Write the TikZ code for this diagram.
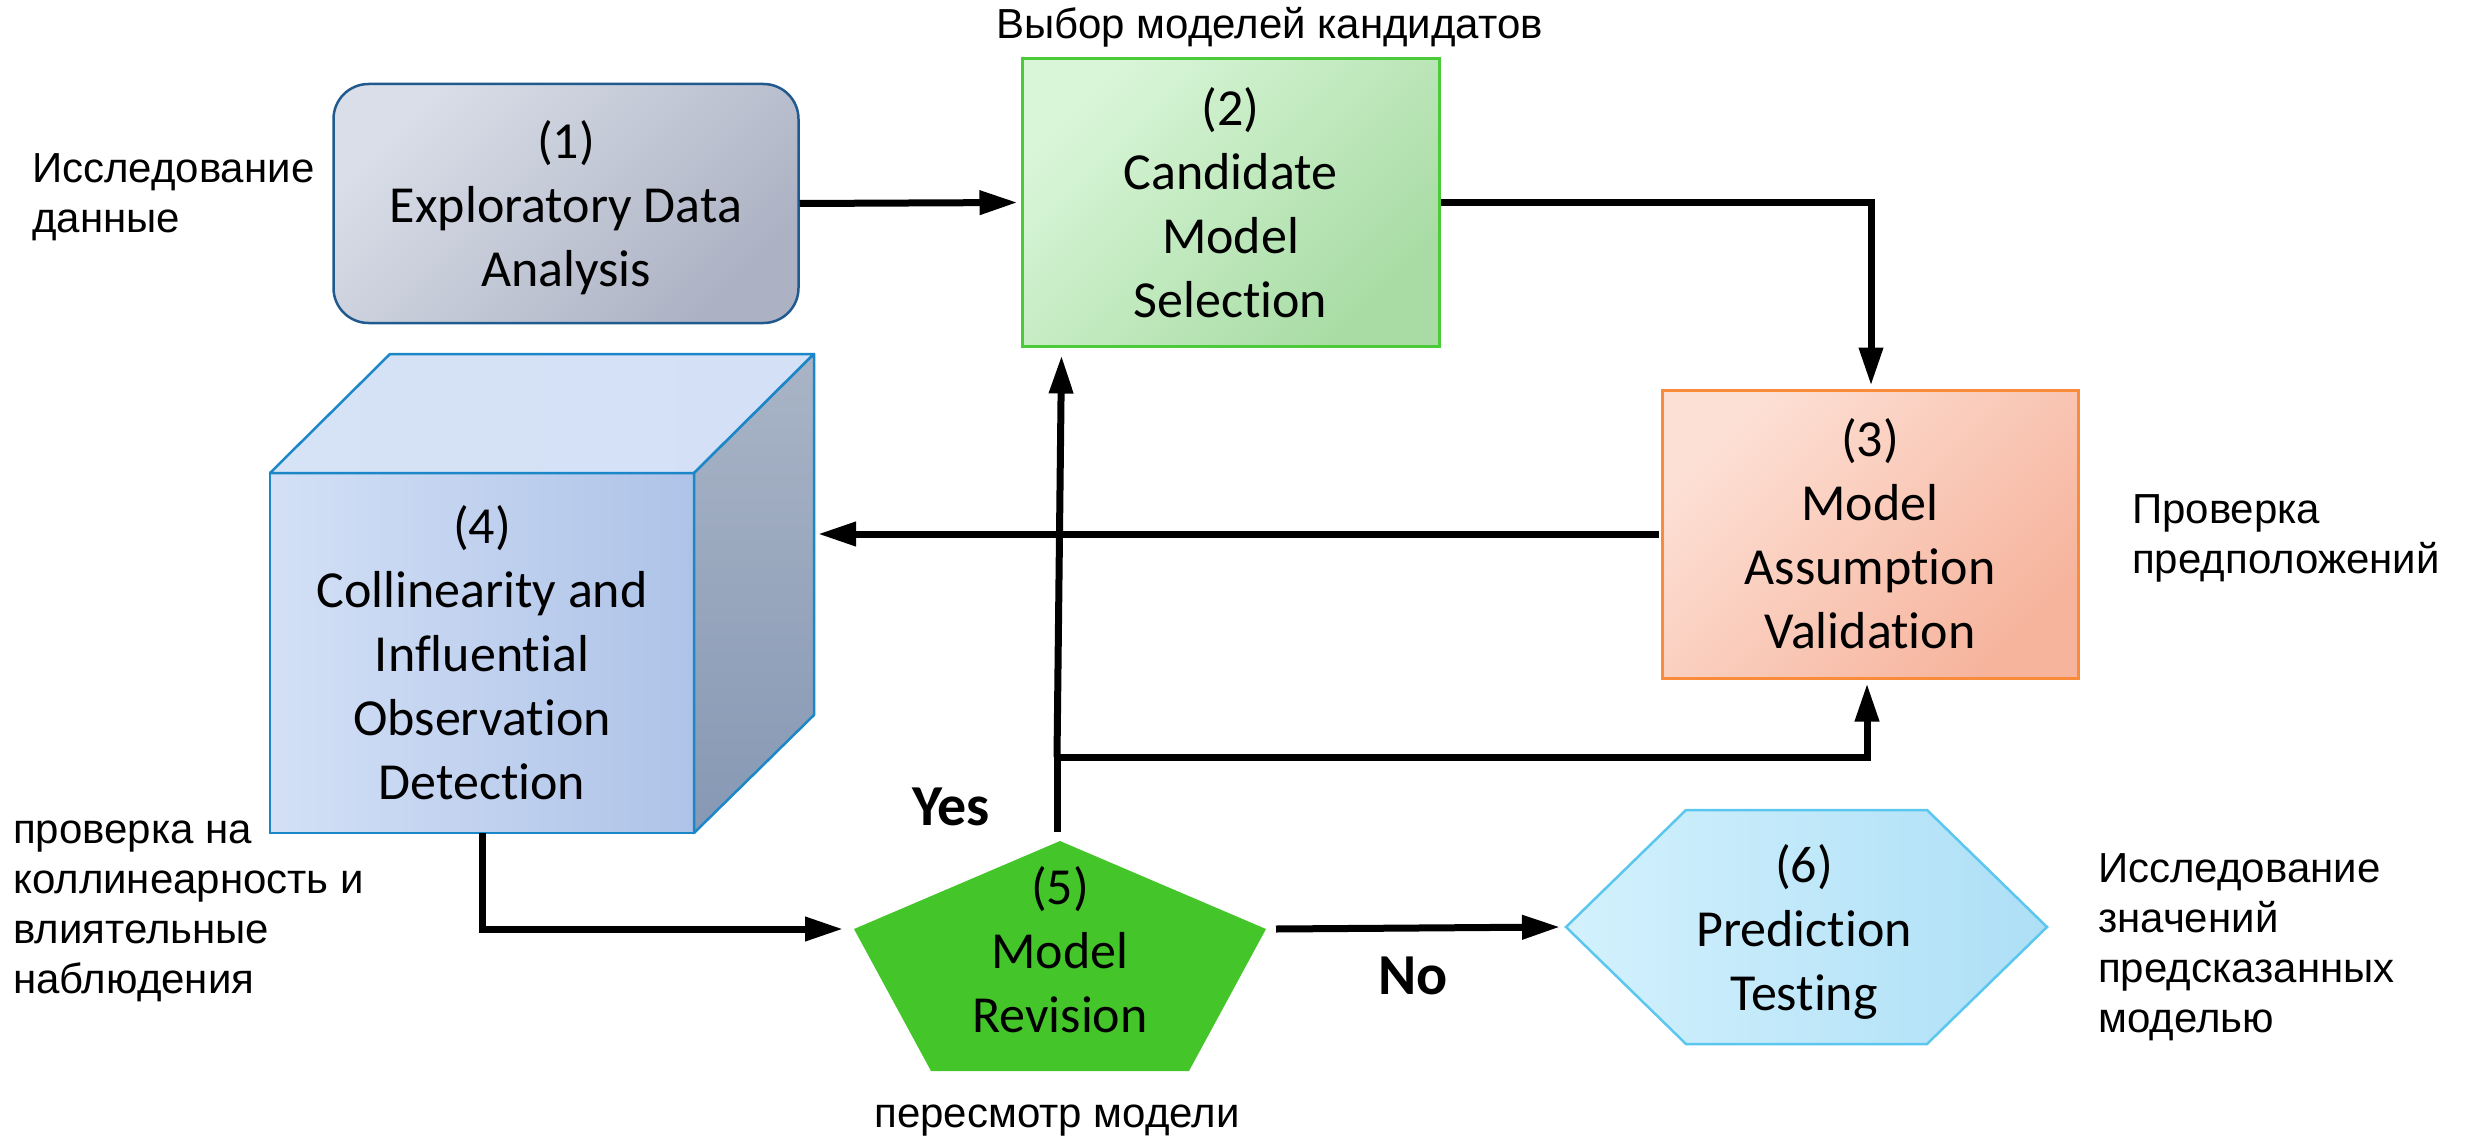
\documentclass[tikz,border=0pt]{standalone}
\usepackage{fontspec}
\setmainfont{Carlito}[Ligatures=NoCommon]
\newfontfamily\rufont{Liberation Sans}
\usetikzlibrary{arrows.meta,calc}

% box colours
\definecolor{edaL}{HTML}{D9DEE8}
\definecolor{edaD}{HTML}{ACB2C3}
\definecolor{edaB}{HTML}{215A8E}
\definecolor{cmsL}{HTML}{D9F6D8}
\definecolor{cmsD}{HTML}{A8DCA4}
\definecolor{cmsB}{HTML}{4CCB3A}
\definecolor{mavL}{HTML}{FDE0D5}
\definecolor{mavD}{HTML}{F6B49D}
\definecolor{mavB}{HTML}{F98B3B}
\definecolor{codL}{HTML}{D3E0F6}
\definecolor{codD}{HTML}{AEC3E8}
\definecolor{codT}{HTML}{D6E2F5}
\definecolor{codS1}{HTML}{A9B4C6}
\definecolor{codS2}{HTML}{8698B4}
\definecolor{codB}{HTML}{1B87C9}
\definecolor{revG}{HTML}{44C62B}
\definecolor{preL}{HTML}{D3F1FD}
\definecolor{preD}{HTML}{ADDFF6}
\definecolor{preB}{HTML}{5CC7EE}

\begin{document}
\begin{tikzpicture}[x=1pt,y=-1pt,
  boxtext/.style={font=\fontsize{52}{64}\selectfont, align=center, inner sep=0pt},
  note/.style={font=\rufont\fontsize{42}{50}\selectfont, align=left, anchor=north west, inner sep=0pt},
  yn/.style={font=\bfseries\fontsize{58}{60}\selectfont, anchor=base west, inner sep=0pt},
  flow/.style={line width=7pt, -{Triangle[length=38pt,width=23pt]}},
  link/.style={line width=7pt},
]
\useasboundingbox (0,0) rectangle (2466,1137);

% (1) exploratory data analysis
\node[draw=edaB, line width=2.5pt, rounded corners=35pt,
      minimum width=465pt, minimum height=239pt,
      top color=edaL, bottom color=edaD, shading angle=45,
      label={[boxtext, yshift=-4pt]center:{(1)\\Exploratory Data\\Analysis}}]
  (eda) at (566,203.5) {};

% (2) candidate model selection
\node[boxtext, draw=cmsB, line width=3pt,
      minimum width=417pt, minimum height=287pt,
      top color=cmsL, bottom color=cmsD, shading angle=45]
  (cms) at (1230.5,202.5) {(2)\\Candidate\\Model\\Selection};

% (3) model assumption validation
\node[boxtext, draw=mavB, line width=3pt,
      minimum width=416pt, minimum height=288pt,
      top color=mavL, bottom color=mavD, shading angle=45]
  (mav) at (1870,534) {(3)\\Model\\Assumption\\Validation};

% (4) cube: front face, then top and side faces
\node[boxtext, draw=codB, line width=2.5pt, outer sep=0pt,
      minimum width=424pt, minimum height=360pt,
      left color=codL, right color=codD]
  (cod) at (482,653) {(4)\\Collinearity and\\Influential\\Observation\\Detection};
\path[draw=codB, line width=2.5pt, line join=round, left color=codT, right color=codL]
  (cod.north west) -- ++(120,-119) -- ++(424,0) -- (cod.north east) -- cycle;
\path[draw=codB, line width=2.5pt, line join=round, top color=codS1, bottom color=codS2]
  (cod.north east) -- ++(120,-119) -- ++(0,361) -- (cod.south east) -- cycle;
\coordinate (c4side) at ($(cod.east)+(124,-119)$);

% (5) model revision pentagon
\coordinate (p5t)  at (1060,841);
\coordinate (p5r)  at (1266,929);
\coordinate (p5br) at (1189,1071);
\coordinate (p5bl) at (931,1071);
\coordinate (p5l)  at (854,929);
\fill[revG] (p5t) -- (p5r) -- (p5br) -- (p5bl) -- (p5l) -- cycle;
\node[boxtext] (rev) at (1060,949.5) {(5)\\Model\\Revision};

% (6) prediction testing hexagon
\coordinate (h6l)  at (1566,927);
\coordinate (h6tl) at (1686,810);
\coordinate (h6tr) at (1927,810);
\coordinate (h6r)  at (2047,927);
\coordinate (h6br) at (1927,1044);
\coordinate (h6bl) at (1686,1044);
\path[draw=preB, line width=2.5pt, left color=preL, right color=preD]
  (h6l) -- (h6tl) -- (h6tr) -- (h6r) -- (h6br) -- (h6bl) -- cycle;
\node[boxtext] (pre) at (1804,931.5) {(6)\\Prediction\\Testing};

% connectors
\draw[flow] (eda.east) -- ([xshift=-3pt]cms.west);
\draw[flow] (cms.east) -| ($(mav.north)+(1,-3)$);
\draw[flow] ([xshift=-2pt]mav.west) -- (c4side);
\draw[flow] (cod.south) |- ($(p5l)+(-11,0)$);
\draw[flow] ($(p5r)+(10,0)$) -- ($(h6l)+(-6,0)$);

\coordinate (ys)   at ($(p5t)+(-3,-9)$);
\coordinate (yj)   at (1057,757);
\coordinate (ytip) at ($(cms.south west)+(41,8)$);
\draw[link] (ys) -- (yj);
\draw[flow] (yj) -- (ytip);
\draw[flow] ([xshift=-3.5pt]yj) -| ($(mav.south)+(-3,4)$);

% decision labels
\node[yn] (yes) at (912,825) {Yes};
\node[yn] (no)  at (1378,994) {No};

% side notes
\node[note] (nEDA) at (32,153) {Исследование\\данные};
\node[note] (nCMS) at (996,7) {Выбор моделей кандидатов};
\node[note] (nMAV) at (2132,494) {Проверка\\предположений};
\node[note] (nCOD) at (13,821) {проверка на\\коллинеарность и\\влиятельные\\наблюдения};
\node[note] (nPRE) at (2098,853) {Исследование\\значений\\предсказанных\\моделью};
\node[note, anchor=north] (nREV) at (1057,1105) {пересмотр модели};
\end{tikzpicture}
\end{document}
